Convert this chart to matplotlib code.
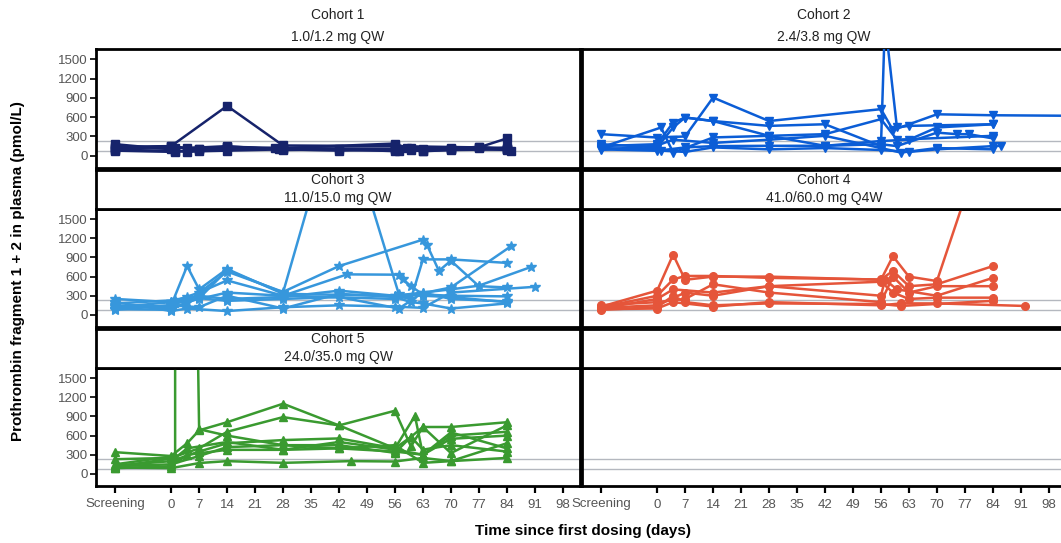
import matplotlib
matplotlib.use("Agg")
from matplotlib import pyplot as plt

plt.rcParams['font.family'] = ['Liberation Sans', 'DejaVu Sans']

W, H = 1061, 543

# x positions: "Screening" is drawn at day -14
tick_days = [-14, 0, 7, 14, 21, 28, 35, 42, 49, 56, 63, 70, 77, 84, 91, 98]
tick_labels = ['Screening'] + [str(d) for d in tick_days[1:]]
y_ticks = [0, 300, 600, 900, 1200, 1500]
ref_lines = [69, 229]

cohort_titles = ['Cohort 1\n1.0/1.2 mg QW', 'Cohort 2\n2.4/3.8 mg QW',
                 'Cohort 3\n11.0/15.0 mg QW', 'Cohort 4\n41.0/60.0 mg Q4W',
                 'Cohort 5\n24.0/35.0 mg QW']
colors = ['#16236b', '#0b5dd6', '#3797dc', '#e5553a', '#3a9a30']
markers = ['s', 'v', '*', 'o', '^']

# one list per subject
c1_days = [
    [-14, 0, 14, 28, 56, 77, 84],
    [-14, 1, 4, 7, 14, 28, 42, 56, 60, 63, 70, 84],
    [-14, 0, 7, 14, 28, 56, 59, 70, 77, 84],
    [-14, 0, 1, 14, 27, 56, 63, 70, 84, 85],
    [-14, 0, 4, 14, 28, 42, 57, 60, 70, 77, 84],
    [-14, 1, 7, 26, 56, 63, 84],
]
c1_vals = [
    [140, 150, 775, 160, 150, 130, 270],
    [90, 80, 60, 70, 80, 100, 80, 100, 90, 80, 90, 100],
    [120, 130, 110, 140, 120, 190, 120, 100, 120, 110],
    [180, 100, 120, 130, 110, 80, 110, 120, 90, 80],
    [110, 150, 120, 150, 90, 100, 70, 120, 110, 140, 110],
    [80, 60, 100, 120, 110, 70, 130],
]

c2_days = [
    [-14, 0, 7, 14, 28, 56, 59, 70, 84, 120],
    [-14, 0, 4, 7, 14, 28, 42, 56, 57, 60, 63, 84],
    [-14, 0, 4, 7, 14, 28, 42, 56, 60, 84],
    [-14, 1, 4, 14, 28, 42, 56, 63, 70, 84],
    [-14, 0, 7, 14, 28, 42, 56, 60, 70, 75, 78, 84],
    [-14, 0, 1, 7, 14, 28, 42, 56, 63, 70, 84, 86],
    [-14, 0, 4, 14, 28, 42, 56, 61, 70, 84],
]
c2_vals = [
    [336, 284, 300, 905, 540, 725, 400, 645, 630, 615],
    [150, 180, 517, 595, 540, 465, 490, 150, 2100, 440, 465, 490],
    [180, 130, 440, 595, 540, 310, 336, 570, 250, 310],
    [130, 440, 50, 285, 310, 155, 230, 250, 440, 490],
    [100, 78, 130, 150, 155, 155, 180, 150, 360, 336, 336, 270],
    [120, 100, 80, 60, 130, 100, 120, 90, 60, 100, 150, 155],
    [90, 160, 250, 200, 250, 310, 120, 50, 120, 100],
]

c3_days = [
    [-14, 0, 7, 14, 28, 42, 57, 63, 70, 84],
    [-14, 0, 4, 7, 14, 28, 56, 60, 63, 70, 84],
    [-14, 0, 4, 14, 28, 42, 63, 64, 67, 70, 77, 84],
    [-14, 0, 7, 14, 28, 56, 70, 85],
    [-14, 0, 1, 7, 14, 28, 44, 57, 58, 60, 63, 70, 84],
    [-14, 0, 7, 14, 28, 42, 56, 63, 70, 77, 90],
    [-14, 0, 4, 14, 28, 42, 56, 63, 70, 91],
    [-14, 0, 7, 14, 28, 42, 56, 60, 63, 70, 84],
    [-14, 1, 4, 14, 28, 42, 57, 63, 70, 84],
]
c3_vals = [
    [150, 100, 260, 700, 350, 3400, 320, 300, 280, 200],
    [100, 150, 765, 400, 720, 330, 300, 250, 870, 870, 815],
    [90, 80, 200, 680, 360, 765, 1180, 1100, 690, 850, 450, 430],
    [120, 200, 350, 540, 300, 250, 430, 1075],
    [140, 130, 180, 250, 350, 300, 635, 630, 560, 450, 320, 300, 290],
    [250, 200, 300, 250, 280, 380, 300, 350, 400, 458, 750],
    [200, 60, 100, 60, 120, 150, 130, 110, 350, 440],
    [80, 150, 120, 300, 100, 330, 280, 200, 180, 100, 180],
    [180, 230, 280, 220, 250, 280, 100, 350, 250, 210],
]

c4_days = [
    [-14, 0, 4, 7, 14, 28, 56, 59, 63, 70, 84],
    [-14, 0, 4, 7, 14, 28, 56, 59, 63, 70, 84],
    [-14, 0, 4, 14, 28, 56, 57, 60, 70, 84],
    [-14, 0, 7, 14, 28, 56, 59, 63, 70, 84],
    [-14, 0, 4, 14, 28, 56, 61, 70, 92],
    [-14, 0, 7, 14, 28, 56, 59, 63, 70, 84],
    [-14, 0, 4, 7, 14, 28, 56, 61, 84],
]
c4_vals = [
    [130, 380, 945, 550, 600, 600, 550, 920, 600, 530, 3150],
    [120, 300, 555, 610, 610, 580, 555, 690, 450, 480, 765],
    [100, 250, 400, 350, 450, 300, 550, 400, 300, 580],
    [150, 200, 250, 480, 350, 200, 600, 350, 450, 450],
    [90, 100, 200, 130, 200, 150, 180, 180, 140],
    [110, 150, 350, 300, 450, 520, 350, 250, 270, 270],
    [80, 120, 300, 200, 150, 180, 170, 140, 220],
]

c5_days = [
    [-14, 1, 1, 7, 14, 28, 42, 56, 63, 70, 84],
    [-14, 0, 4, 7, 14, 28, 42, 56, 60, 63, 70, 84],
    [-14, 0, 7, 14, 28, 42, 56, 60, 63, 70, 84],
    [-14, 0, 7, 14, 28, 42, 56, 61, 63, 70, 84],
    [-14, 0, 4, 14, 28, 42, 56, 63, 70, 84],
    [-14, 0, 7, 14, 28, 45, 56, 63, 70, 84],
    [-14, 0, 7, 14, 28, 42, 56, 60, 63, 70, 84],
    [-14, 1, 4, 14, 28, 42, 56, 63, 70, 84],
]
c5_vals = [
    [150, 280, 25000, 700, 600, 450, 400, 350, 300, 550, 600],
    [340, 280, 480, 683, 810, 1100, 760, 400, 580, 735, 735, 810],
    [230, 250, 400, 660, 890, 760, 990, 430, 735, 326, 760],
    [130, 200, 350, 480, 530, 556, 400, 910, 300, 600, 660],
    [90, 120, 300, 377, 377, 400, 450, 173, 200, 480],
    [100, 90, 170, 200, 173, 200, 194, 250, 200, 250],
    [120, 150, 280, 420, 450, 450, 330, 580, 380, 450, 350],
    [110, 250, 400, 500, 377, 500, 380, 300, 650, 400],
]

all_days = [c1_days, c2_days, c3_days, c4_days, c5_days]
all_vals = [c1_vals, c2_vals, c3_vals, c4_vals, c5_vals]


def box(x0, y0, x1, y1):
    # pixel box -> figure fraction
    return [x0 / W, 1 - y1 / H, (x1 - x0) / W, (y1 - y0) / H]


fig = plt.figure(figsize=(W / 100, H / 100), dpi=100)

cols = [(96, 580), (582, 1066)]
rows = [(49, 168), (209, 327), (368, 486)]
headers = [None, (170, 209), (329, 368)]

for r in range(3):
    for c in range(2):
        k = r * 2 + c
        x0, x1 = cols[c]
        y0, y1 = rows[r]
        ax = fig.add_axes(box(x0, y0, x1, y1))
        ax.set_xlim(-18.8, 102.3)
        ax.set_ylim(-190, 1660)
        for s in ax.spines.values():
            s.set_linewidth(2)
        for v in ref_lines:
            ax.axhline(v, color='#b4b8bf', lw=1, zorder=1)
        ax.set_yticks(y_ticks)
        ax.set_xticks(tick_days)
        ax.tick_params(axis='y', left=(c == 0), labelleft=(c == 0), length=4,
                       width=1.2, labelsize=9.5, labelcolor='#555555', pad=2)
        ax.tick_params(axis='x', bottom=(r == 2), labelbottom=(r == 2), length=5,
                       width=1.6, labelsize=9.5, labelcolor='#555555', pad=4)
        if r == 2:
            ax.set_xticklabels(tick_labels)
        if k < 5:
            for d, v in zip(all_days[k], all_vals[k]):
                ax.plot(d, v, color=colors[k], marker=markers[k], lw=1.8,
                        ms=7 if markers[k] == '*' else 5.5, zorder=3)
            cx = (x0 + x1) / 2
            if headers[r] is None:
                name, dose = cohort_titles[k].split('\n')
                fig.text(cx / W, 1 - 15 / H, name, ha='center', va='center',
                         fontsize=10, color='#222222')
                fig.text(cx / W, 1 - 37 / H, dose, ha='center', va='center',
                         fontsize=10, color='#222222')
            else:
                h0, h1 = headers[r]
                hx = fig.add_axes(box(x0, h0, x1, h1))
                hx.set_xticks([])
                hx.set_yticks([])
                for s in hx.spines.values():
                    s.set_linewidth(2)
                name, dose = cohort_titles[k].split('\n')
                hx.text(0.5, 0.74, name, ha='center', va='center',
                        fontsize=10, color='#222222', transform=hx.transAxes)
                hx.text(0.5, 0.28, dose, ha='center', va='center',
                        fontsize=10, color='#222222', transform=hx.transAxes)
        elif headers[r] is not None:
            h0, h1 = headers[r]
            hx = fig.add_axes(box(x0, h0, x1, h1))
            hx.set_xticks([])
            hx.set_yticks([])
            for s in hx.spines.values():
                s.set_linewidth(2)

fig.text(18 / W, 1 - 271 / H, 'Prothrombin fragment 1 + 2 in plasma (pmol/L)',
         rotation=90, ha='center', va='center', fontsize=11, fontweight='bold')
fig.text(583 / W, 1 - 531 / H, 'Time since first dosing (days)',
         ha='center', va='center', fontsize=11, fontweight='bold')

fig.savefig('out.png', dpi=100)
